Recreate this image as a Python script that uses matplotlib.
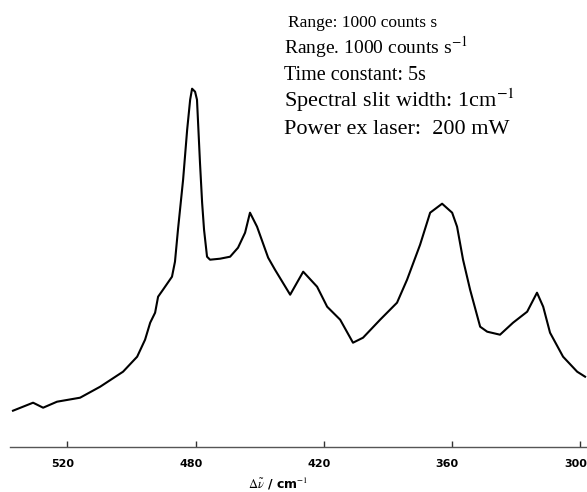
import matplotlib
matplotlib.use('Agg')
import matplotlib.pyplot as plt
import matplotlib.transforms as mtransforms

# Raman shift (cm^-1) and intensity (arbitrary units).
shift = [565.5, 556.1, 551.4, 544.9, 534.1, 524.7, 514.0, 507.4, 503.7, 501.3,
         499.0, 497.6, 495.3, 491.1, 489.7, 488.3, 485.9, 484.0, 482.6, 481.7,
         480.3, 479.4, 478.0, 477.0, 476.1, 474.7, 473.3, 468.6, 463.9, 460.2,
         456.9, 454.6, 451.3, 446.1, 442.9, 435.8, 429.7, 423.2, 418.5, 412.4,
         406.4, 401.7, 393.7, 385.8, 381.1, 375.0, 370.3, 364.7, 360.0, 357.7,
         354.9, 351.6, 346.9, 343.6, 337.6, 331.5, 324.9, 320.3, 317.4, 314.2,
         308.1, 301.5, 297.8]
intensity = [36, 44, 39, 45, 49, 60, 75, 90, 107, 124,
             134, 150, 157, 170, 185, 217, 267, 317, 347, 358,
             355, 347, 284, 244, 217, 190, 187, 188, 190, 199,
             214, 234, 220, 189, 177, 152, 175, 160, 140, 127,
             104, 109, 127, 144, 167, 202, 234, 243, 234, 220,
             187, 157, 120, 115, 112, 124, 135, 154, 140, 114,
             90, 75, 70]

# Tick positions and the labels printed on the original chart.
tick_pos = [540, 480, 420, 360, 300]
tick_labels = ['520', '480', '420', '360', '300']

notes = [
    'Range: 1000 counts s',
    'Range. 1000 counts s$^{-1}$',
    'Time constant: 5s',
    'Spectral slit width: 1cm$^{-1}$',
    'Power ex laser:  200 mW',
]

plt.rcParams['mathtext.fontset'] = 'stix'

fig = plt.figure(figsize=(5.87, 4.92), dpi=100)
ax = fig.add_axes([10 / 587, 45.3 / 492, 577 / 587, 446.7 / 492])

ax.plot(shift, intensity, color='black', linewidth=1.5)

ax.set_xlim(566.9, 296.9)
ax.set_ylim(0, 446.7)

# Only the bottom axis line is visible.
for side in ['left', 'right', 'top']:
    ax.spines[side].set_visible(False)
ax.spines['bottom'].set_color('#555555')
ax.spines['bottom'].set_linewidth(1.0)
ax.set_yticks([])
ax.set_xticks(tick_pos)
ax.set_xticklabels(tick_labels, fontsize=8, fontweight='bold', family='DejaVu Sans')
ax.tick_params(axis='x', direction='in', length=4, width=1, pad=9, color='#333333')

# Labels sit a little left of their ticks on the original.
shift_left = mtransforms.ScaledTranslation(-0.05, 0, fig.dpi_scale_trans)
for lab in ax.get_xticklabels():
    lab.set_transform(lab.get_transform() + shift_left)

fig.text(278 / 587, 1 - 484 / 492, r'$\Delta\tilde{\nu}$ / cm$^{-1}$',
         ha='center', va='center', fontsize=9, fontweight='bold')

# Instrument settings in the upper right.
baselines = [27, 54, 80, 107, 134]
lefts = [288, 284, 284, 284, 284]
sizes = [12.5, 14, 14.5, 16, 16]
for txt, yb, xl, fs in zip(notes, baselines, lefts, sizes):
    fig.text(xl / 587, 1 - yb / 492, txt, ha='left', va='baseline',
             fontsize=fs, family='Liberation Serif')

fig.savefig('out.png', dpi=100)
